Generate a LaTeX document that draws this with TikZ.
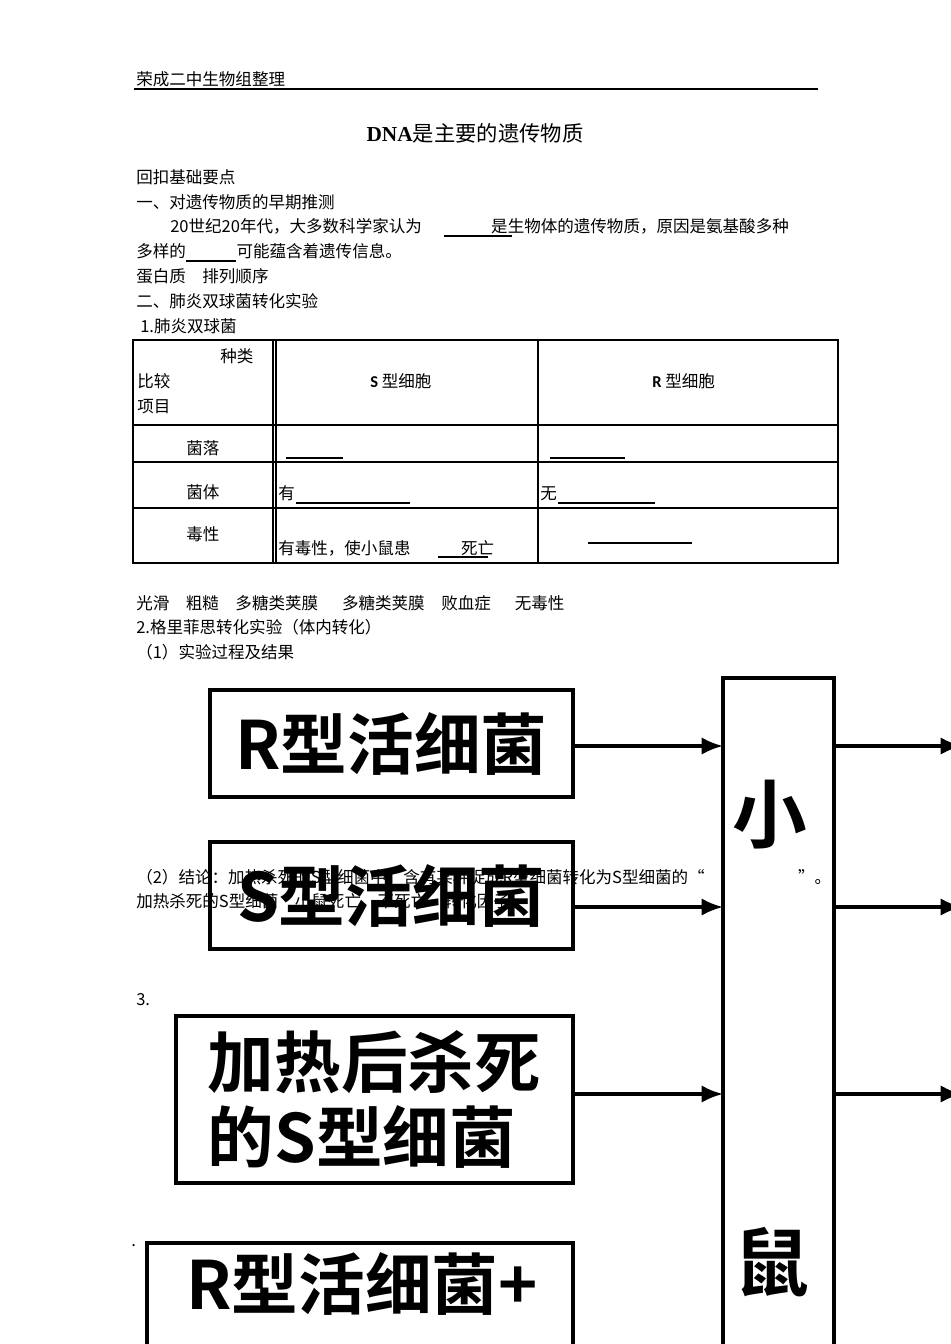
\documentclass[tikz,border=0pt]{standalone}
\usepackage{fontspec}
\setmainfont{Liberation Serif}
\newfontfamily\cjk{Noto Sans CJK SC}
\newfontfamily\cjkb{Noto Sans CJK SC Bold}
\newfontfamily\lat{Carlito}
\begin{document}
\begin{tikzpicture}[x=0.75pt,y=-0.75pt,
  t/.style={anchor=base west,inner sep=0pt,font=\cjk\fontsize{12.4}{13}\selectfont},
  big/.style={font=\cjkb\fontsize{50}{56}\selectfont,inner sep=0pt,align=left},
  bx/.style={draw,line width=2.4pt},
  ar/.style={line width=2.4pt,-{Latex[length=16pt,width=13pt]}}]
\usetikzlibrary{arrows.meta}
\useasboundingbox[fill=white] (0,0) rectangle (950,1344);
\node[t] (h) at (136,86) {荣成二中生物组整理};
\draw[line width=0.8pt] (134,89) -- (818,89);
\node[anchor=base,inner sep=0pt,font=\cjk\fontsize{16}{17}\selectfont] (ti) at (475,142) {{\bfseries\rmfamily DNA}是主要的遗传物质};
\node[t] (a1) at (136,184) {回扣基础要点};
\node[t] (a2) at (136,209) {一、对遗传物质的早期推测};
\node[t] (a3) at (170,233) {20世纪20年代，大多数科学家认为\hspace{52pt}是生物体的遗传物质，原因是氨基酸多种};
\draw[line width=1pt] (444,236) -- (512,236);
\node[t] (a4) at (136,258) {多样的\hspace{38pt}可能蕴含着遗传信息。};
\draw[line width=1pt] (186,261) -- (236,261);
\node[t] (a5) at (136,283) {蛋白质\quad 排列顺序};
\node[t] (a6) at (136,308) {二、肺炎双球菌转化实验};
\node[t] (a7) at (140,332) {1.肺炎双球菌};
% table
\draw[line width=1.2pt] (133,340) rectangle (838,563);
\draw[line width=1pt] (273,340) -- (273,563) (276,340) -- (276,563) (538,340) -- (538,563);
\draw[line width=1pt] (133,425) -- (838,425) (133,462) -- (838,462) (133,508) -- (838,508);
\node[t] (c1) at (220,362) {种类};
\node[t] (c2) at (137,387) {比较};
\node[t] (c3) at (137,412) {项目};
\node[t] (c4) at (370,387) {{\bfseries\lat S} 型细胞};
\node[t] (c5) at (652,387) {{\bfseries\lat R} 型细胞};
\node[t] (c6) at (186,454) {菌落};
\node[t] (c7) at (186,498) {菌体};
\node[t] (c8) at (186,540) {毒性};
\draw[line width=1pt] (286,458) -- (343,458) (550,458) -- (625,458);
\node[t] (c9) at (278,499) {有};
\draw[line width=1.2pt] (296,503) -- (410,503);
\node[t] (c10) at (540,499) {无};
\draw[line width=1.2pt] (558,503) -- (655,503);
\node[t] (c11) at (278,554) {有毒性，使小鼠患\hspace{38pt}死亡};
\draw[line width=1pt] (438,557) -- (488,557) (588,543) -- (692,543);
\node[t] (d1) at (136,609) {光滑\quad 粗糙\quad 多糖类荚膜\quad\ \ 多糖类荚膜\quad 败血症\quad\ \ 无毒性};
\node[t] (d2) at (136,633) {2.格里菲思转化实验（体内转化）};
\node[t] (d3) at (136,658) {（1）实验过程及结果};
\node[t] (d4) at (136,883) {（2）结论：加热杀死的S型细菌中，含有某种促成R型细菌转化为S型细菌的“\hspace{70pt}”。};
\node[t] (d5) at (136,907) {加热杀死的S型细菌\quad 小鼠死亡\quad 不死亡\quad 转化因子};
\node[t] (d6) at (136,1005) {3.};
\node[t] (d7) at (131,1246) {.};
% boxes
\node[bx,minimum width=363*0.75pt,minimum height=107*0.75pt,big] (b1) at (391.5,743.5) {R型活细菌};
\node[bx,minimum width=363*0.75pt,minimum height=107*0.75pt,big] (b2) at (391.5,895.5) {S型活细菌};
\node[bx,minimum width=397*0.75pt,minimum height=167*0.75pt,big] (b3) at (374.5,1099.5) {加热后杀死\\的S型细菌};
\draw[line width=2.4pt] (147,1380) -- (147,1243) -- (573,1243) -- (573,1380);
\node[big] (b4) at (362,1284) {R型活细菌+};
\draw[line width=2.4pt] (723,1380) -- (723,678) -- (834,678) -- (834,1380);
\node[font=\cjkb\fontsize{56}{56}\selectfont,inner sep=0pt] (m1) at (770,815) {小};
\node[font=\cjkb\fontsize{56}{56}\selectfont,inner sep=0pt] (m2) at (772,1262) {鼠};
\coordinate (p1) at (723,746); \coordinate (p2) at (723,907); \coordinate (p3) at (723,1094);
\draw[ar] (b1.east |- p1) -- (p1);
\draw[ar] (b2.east |- p2) -- (p2);
\draw[ar] (b3.east |- p3) -- (p3);
\coordinate (q1) at (962,746); \coordinate (q2) at (962,907); \coordinate (q3) at (962,1094);
\draw[ar] (834,746) -- (q1);
\draw[ar] (834,907) -- (q2);
\draw[ar] (834,1094) -- (q3);
\end{tikzpicture}
\end{document}
